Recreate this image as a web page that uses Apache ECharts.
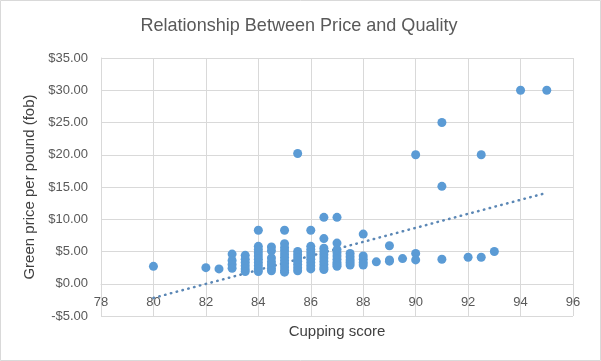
<!DOCTYPE html>
<html>
<head>
<meta charset="utf-8">
<script src="https://cdn.jsdelivr.net/npm/echarts@6/dist/echarts.min.js"></script>
<style>
html,body{margin:0;padding:0;background:#fff;}
#c{width:601px;height:361px;}
</style>
</head>
<body>
<div id="c"></div>
<script>
// Cupping score (x) and green price per pound (y)
const scoreX = [
  80,
  82,
  82.5,
  83, 83, 83, 83,
  83.5, 83.5, 83.5, 83.5, 83.5, 83.5,
  84, 84, 84, 84, 84, 84, 84, 84, 84, 84,
  84.5, 84.5, 84.5, 84.5, 84.5, 84.5, 84.5,
  85, 85, 85, 85, 85, 85, 85, 85, 85, 85, 85,
  85.5, 85.5, 85.5, 85.5, 85.5, 85.5, 85.5, 85.5,
  86, 86, 86, 86, 86, 86, 86, 86, 86,
  86.5, 86.5, 86.5, 86.5, 86.5, 86.5, 86.5, 86.5, 86.5, 86.5,
  87, 87, 87, 87, 87, 87, 87, 87, 87,
  87.5, 87.5, 87.5, 87.5, 87.5,
  88, 88, 88, 88, 88,
  88.5,
  89, 89, 89,
  89.5,
  90, 90, 90,
  91, 91, 91,
  92,
  92.5, 92.5,
  93,
  94,
  95
];
const priceY = [
  2.7,
  2.5,
  2.3,
  4.6, 3.6, 3.0, 2.4,
  4.4, 3.8, 3.3, 2.8, 2.3, 1.9,
  8.3, 5.8, 5.3, 4.8, 4.3, 3.8, 3.3, 2.8, 2.3, 1.9,
  5.7, 5.1, 4.0, 3.4, 2.9, 2.4, 2.0,
  8.3, 6.2, 5.6, 5.1, 4.6, 4.1, 3.6, 3.1, 2.6, 2.1, 1.8,
  20.2, 5.0, 4.5, 4.0, 3.5, 3.0, 2.5, 2.0,
  8.3, 5.8, 5.3, 4.8, 4.3, 3.8, 3.3, 2.8, 2.3,
  10.3, 7.0, 5.5, 5.0, 4.5, 4.0, 3.5, 3.0, 2.5, 2.2,
  10.3, 6.3, 5.3, 4.8, 4.3, 3.8, 3.3, 3.0, 2.7,
  4.7, 4.2, 3.7, 3.3, 2.9,
  7.7, 4.3, 3.8, 3.3, 2.9,
  3.4,
  5.9, 3.7, 3.5,
  3.9,
  20.0, 4.7, 3.7,
  25.0, 15.1, 3.8,
  4.1,
  20.0, 4.1,
  5.0,
  30.0,
  30.0
];
// Linear trendline endpoints as drawn
const trendX = [80, 95];
const trendY = [-2.2, 14.1];

const xTicks = [78, 80, 82, 84, 86, 88, 90, 92, 94, 96];
const yTicks = [-5, 0, 5, 10, 15, 20, 25, 30, 35];

const titleText = 'Relationship Between Price and Quality';
const xName = 'Cupping score';
const yName = 'Green price per pound (fob)';

const points = scoreX.map((x, i) => [x, priceY[i]]);
const trend = trendX.map((x, i) => [x, trendY[i]]);

const fmtMoney = v => (v < 0 ? '-$' : '$') + Math.abs(v).toFixed(2);
const labelFont = "'Liberation Sans', Arial, sans-serif";

const chart = echarts.init(document.getElementById('c'), null, {renderer: 'canvas'});
chart.setOption({
  backgroundColor: '#ffffff',
  animation: false,
  graphic: [
    {
      type: 'rect',
      shape: {x: 0.5, y: 0.5, width: 600, height: 360},
      style: {fill: 'none', stroke: '#d9d9d9', lineWidth: 1},
      silent: true
    },
    {
      type: 'text',
      x: 299,
      y: 26,
      scaleX: 0.95,
      silent: true,
      style: {
        text: titleText,
        align: 'center',
        verticalAlign: 'middle',
        font: "19px 'Liberation Sans', Arial, sans-serif",
        fill: '#595959'
      }
    }
  ],
  grid: {left: 101, right: 28, top: 58, bottom: 45, containLabel: false, outerBoundsMode: 'none'},
  xAxis: {
    type: 'value',
    min: xTicks[0],
    max: xTicks[xTicks.length - 1],
    interval: 2,
    offset: -32,
    name: xName,
    nameLocation: 'middle',
    nameGap: 40.5,
    nameTextStyle: {fontFamily: labelFont, fontSize: 15, color: '#404040'},
    axisLine: {show: true, onZero: false, lineStyle: {color: '#d9d9d9', width: 1}},
    axisTick: {show: false},
    axisLabel: {margin: 12, fontFamily: labelFont, fontSize: 13, color: '#595959'},
    splitLine: {show: true, lineStyle: {color: '#d9d9d9', width: 1}}
  },
  yAxis: {
    type: 'value',
    min: yTicks[0],
    max: yTicks[yTicks.length - 1],
    interval: 5,
    name: yName,
    nameLocation: 'middle',
    nameGap: 50,
    nameTextStyle: {fontFamily: labelFont, fontSize: 15, color: '#404040'},
    axisLine: {show: true, lineStyle: {color: '#d9d9d9', width: 1}},
    axisTick: {show: false},
    axisLabel: {margin: 13, fontFamily: labelFont, fontSize: 13, color: '#595959', formatter: fmtMoney},
    splitLine: {show: true, lineStyle: {color: '#d9d9d9', width: 1}}
  },
  series: [
    {
      type: 'line',
      data: trend,
      showSymbol: false,
      symbol: 'none',
      z: 3,
      lineStyle: {color: '#5b87b5', width: 2.5, type: [0.5, 5.5], cap: 'round'}
    },
    {
      type: 'scatter',
      data: points,
      symbol: 'circle',
      symbolSize: 9,
      z: 4,
      itemStyle: {color: '#5b9bd5', opacity: 1}
    }
  ]
});
</script>
</body>
</html>
